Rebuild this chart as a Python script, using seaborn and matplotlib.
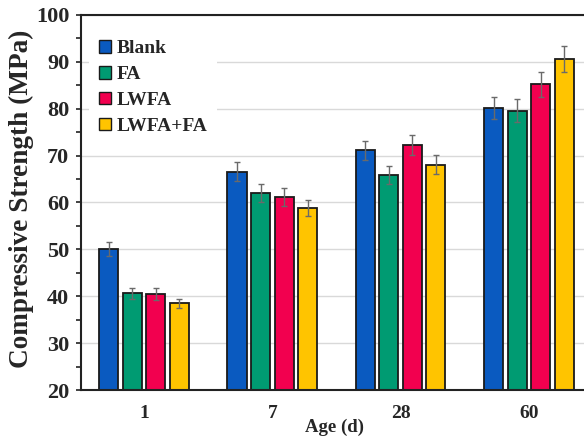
import numpy as np
import pandas as pd
import matplotlib
matplotlib.use("Agg")
import matplotlib.pyplot as plt
from matplotlib.patches import Rectangle
from matplotlib.ticker import MultipleLocator
import seaborn as sns

ages = ["1", "7", "28", "60"]
mixes = ["Blank", "FA", "LWFA", "LWFA+FA"]
blank = [50.1, 66.6, 71.1, 80.2]
fa = [40.6, 62.0, 65.8, 79.6]
lwfa = [40.5, 61.2, 72.3, 85.2]
lwfa_fa = [38.5, 58.9, 68.1, 90.6]
blank_err = [1.5, 2.0, 2.1, 2.3]
fa_err = [1.2, 1.9, 1.9, 2.4]
lwfa_err = [1.2, 1.9, 2.1, 2.6]
lwfa_fa_err = [1.0, 1.7, 2.0, 2.7]
colors = ["#0A5AC0", "#009B72", "#F2004F", "#FFC400"]

values = [blank, fa, lwfa, lwfa_fa]
errors = [blank_err, fa_err, lwfa_err, lwfa_fa_err]
df = pd.DataFrame({
    "Age": [a for _ in mixes for a in ages],
    "Mix": [m for m in mixes for _ in ages],
    "Strength": [v for vals in values for v in vals],
})

sns.set_style("white")
plt.rcParams["font.family"] = ["Liberation Serif", "DejaVu Serif"]
plt.rcParams["font.weight"] = "bold"

fig = plt.figure(figsize=(5.84, 4.36), dpi=100)
ax = fig.add_axes([81 / 584, 46 / 436, 503 / 584, 375 / 436])

sns.barplot(data=df, x="Age", y="Strength", hue="Mix", order=ages, hue_order=mixes,
            palette=colors, saturation=1, width=0.733, gap=0.19, errorbar=None,
            edgecolor="#1a1a1a", linewidth=1.3, ax=ax, legend=False, zorder=2)

for cont, errs in zip(ax.containers, errors):
    xs = [p.get_x() + p.get_width() / 2 for p in cont.patches]
    hs = [p.get_height() for p in cont.patches]
    ax.errorbar(xs, hs, yerr=errs, fmt="none", ecolor="#6a6a6a", elinewidth=1.0,
                capsize=2.3, capthick=1.0, zorder=3)

ax.set_ylim(20, 100)
ax.set_xlim(-0.491, 3.43)
ax.yaxis.set_major_locator(MultipleLocator(10))
ax.yaxis.set_minor_locator(MultipleLocator(5))
ax.yaxis.grid(True, which="major", color="#d9d9d9", lw=1.0, zorder=0)
ax.set_axisbelow(True)

for s in ["left", "bottom", "top"]:
    ax.spines[s].set_visible(True)
    ax.spines[s].set_color("#222222")
    ax.spines[s].set_linewidth(1.5)
ax.spines["right"].set_visible(False)

ax.tick_params(axis="y", which="both", direction="out", length=3.5, width=1.2,
               color="#222222", left=True, labelsize=16, pad=5)
ax.tick_params(axis="x", length=0, labelsize=14, pad=11)
for lbl in ax.get_yticklabels() + ax.get_xticklabels():
    lbl.set_fontweight("bold")

ax.set_ylabel("Compressive Strength (MPa)", fontsize=19.6, fontweight="bold")
ax.yaxis.set_label_coords(-0.093, 0.511)
ax.set_xlabel("Age (d)", fontsize=13.5, fontweight="bold")
ax.xaxis.set_label_coords(0.503, -0.076)

handles = [Rectangle((0, 0), 1, 1, facecolor=c, edgecolor="#1a1a1a", lw=1.0) for c in colors]
leg = ax.legend(handles, mixes, loc="upper left", bbox_to_anchor=(-0.003, 0.985),
                prop={"family": "Liberation Serif", "weight": "bold", "size": 14},
                handlelength=0.62, handleheight=0.62, handletextpad=0.3,
                labelspacing=0.45, borderpad=0.5, frameon=True, fancybox=False,
                facecolor="white", edgecolor="none", framealpha=1.0)
leg.set_zorder(5)

fig.savefig("out.png", dpi=100)
